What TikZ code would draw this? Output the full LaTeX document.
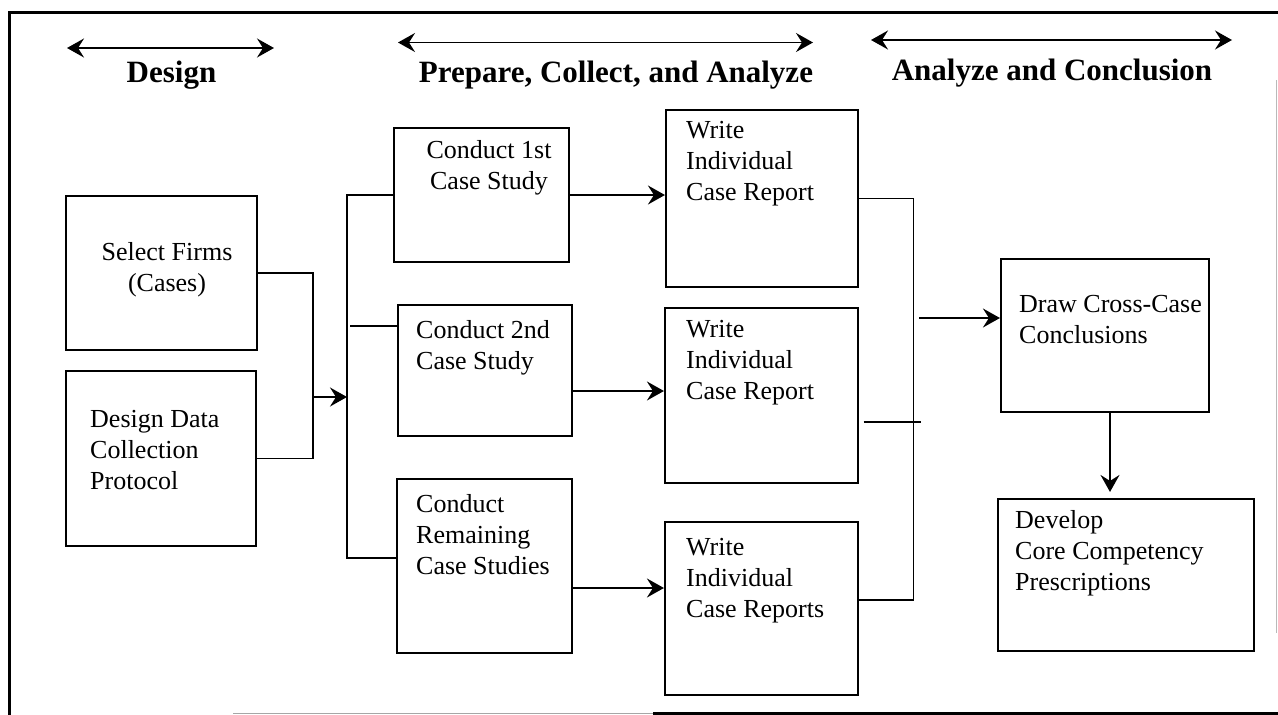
\documentclass[tikz,border=0pt]{standalone}
\usepackage{fontspec}
\setmainfont{Liberation Serif}
\usetikzlibrary{arrows.meta}
\newcommand\boxtextL[1]{\begin{tabular}[t]{@{}l@{}}#1\end{tabular}}
\newcommand\boxtextC[1]{\begin{tabular}[t]{@{}c@{}}#1\end{tabular}}
\begin{document}
\begin{tikzpicture}[x=1pt,y=-1pt,
  stepbox/.style={draw, line width=2.1pt, inner sep=0pt},
  boxtxt/.style={inner sep=0pt, font=\fontsize{26}{31}\selectfont},
  headtxt/.style={inner sep=0pt, anchor=base, font=\fontsize{31}{36}\selectfont\bfseries},
  conn/.style={line width=1.8pt},
  tip/.tip={Stealth[length=17pt,width=19pt,inset=6pt]},
  arr/.style={conn, -tip},
  spanarr/.style={line width=1.8pt, tip-tip},
  frameline/.style={line width=3pt}
]
\useasboundingbox (0,0) rectangle (1278,715);
% frame
\draw[frameline] (9,715) -- (9,12) -- (1278,12);
\draw[frameline] (653,713) -- (1278,713);
\draw[gray!70, line width=1pt] (233,713) -- (653,713);
\draw[gray!55, line width=0.7pt] (1276,80) -- (1276,633);

% phase arrows and headings
\coordinate (h1a) at (67,48);   \coordinate (h1b) at (274,48);
\coordinate (h2a) at (398,42.5); \coordinate (h2b) at (813,42.5);
\coordinate (h3a) at (871,40);  \coordinate (h3b) at (1232,40);
\draw[spanarr] (h1a) -- (h1b);
\draw[spanarr] (h2a) -- (h2b);
\draw[spanarr] (h3a) -- (h3b);
\node[headtxt] (hd1) at (171.5,82.5) {Design};
\node[headtxt] (hd2) at (616,82.5) {Prepare, Collect, and Analyze};
\node[headtxt] (hd3) at (1052,80.5) {Analyze and Conclusion};

% boxes
\node[stepbox, minimum width=191pt, minimum height=154pt] (sf) at (161.5,273) {};
\node[stepbox, minimum width=190pt, minimum height=175pt] (dd) at (161,458.5) {};
\node[stepbox, minimum width=175pt, minimum height=134pt] (c1) at (481.5,195) {};
\node[stepbox, minimum width=174pt, minimum height=131pt] (c2) at (485,370.5) {};
\node[stepbox, minimum width=175pt, minimum height=174pt] (c3) at (484.5,566) {};
\node[stepbox, minimum width=192pt, minimum height=177pt] (w1) at (762,198.5) {};
\node[stepbox, minimum width=193pt, minimum height=175pt] (w2) at (761.5,395.5) {};
\node[stepbox, minimum width=193pt, minimum height=173pt] (w3) at (761.5,608.5) {};
\node[stepbox, minimum width=208pt, minimum height=153pt] (dc) at (1105,335.5) {};
\node[stepbox, minimum width=256pt, minimum height=152pt] (dv) at (1126,575) {};

% box texts
\node[boxtxt, anchor=base] (tsf) at (167,260) {\boxtextC{Select Firms\\(Cases)}};
\node[boxtxt, anchor=base west] (tdd) at (90,427) {\boxtextL{Design Data\\Collection\\Protocol}};
\node[boxtxt, anchor=base] (tc1) at (489,158) {\boxtextC{Conduct 1st\\Case Study}};
\node[boxtxt, anchor=base west] (tc2) at (416,338) {\boxtextL{Conduct 2nd\\Case Study}};
\node[boxtxt, anchor=base west] (tc3) at (416,512) {\boxtextL{Conduct\\Remaining\\Case Studies}};
\node[boxtxt, anchor=base west] (tw1) at (686,138) {\boxtextL{Write\\Individual\\Case Report}};
\node[boxtxt, anchor=base west] (tw2) at (686,337) {\boxtextL{Write\\Individual\\Case Report}};
\node[boxtxt, anchor=base west] (tw3) at (686,555) {\boxtextL{Write\\Individual\\Case Reports}};
\node[boxtxt, anchor=base west] (tdc) at (1019,312) {\boxtextL{Draw Cross-Case\\Conclusions}};
\node[boxtxt, anchor=base west] (tdv) at (1015,528) {\boxtextL{Develop\\Core Competency\\Prescriptions}};

% connectors: design -> bus
\coordinate (j) at (313,397);
\coordinate (b) at (347,397);
\draw[conn] (sf.east) -| (j) |- (dd.east);
\draw[arr] (j) -- (b);
% bus
\coordinate (bb) at (347,558);
\draw[conn] (c1.west) -| (bb) -- (bb -| c3.west);
\coordinate (b2) at (350,326);
\draw[conn] (b2) -- (b2 -| c2.west);
% conduct -> write
\coordinate (r2) at (0,391);
\coordinate (r3) at (0,588);
\draw[arr] (c1.east) -- (c1.east -| w1.west);
\draw[arr] (c2.east |- r2) -- (w2.west |- r2);
\draw[arr] (c3.east |- r3) -- (w3.west |- r3);
% write -> collector
\coordinate (k) at (913.5,600);
\draw[conn] (w1.east) -| (k) -- (k -| w3.east);
\coordinate (k2) at (921,422);
\draw[conn] (w2.east |- k2) ++(4.5,0) -- (k2);
\coordinate (k3) at (919,318);
\draw[arr] (k3) -- (k3 -| dc.west);
% draw -> develop
\coordinate (d) at (1110,0);
\draw[arr, shorten >=6pt] (dc.south -| d) -- (dv.north -| d);
\end{tikzpicture}
\end{document}
